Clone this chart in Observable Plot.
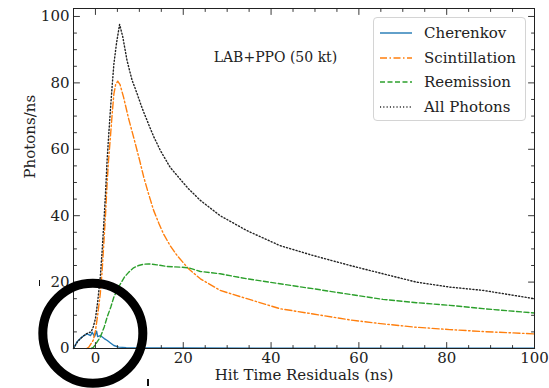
<!DOCTYPE html>
<html>
<head>
<meta charset="utf-8">
<script src="https://cdn.jsdelivr.net/npm/d3@7"></script>
<script src="https://cdn.jsdelivr.net/npm/@observablehq/plot@0.6"></script>
<style>
  html, body { margin: 0; padding: 0; background: #fff; }
  #wrap { position: relative; width: 549px; height: 388px; font-family: "DejaVu Serif", serif; }
  #legend { position: absolute; left: 373px; top: 17px; width: 153px; height: 104px;
    border: 1px solid #d4d4d4; border-radius: 4px; background: rgba(255,255,255,0.9); box-sizing: border-box; }
  .row { position: absolute; left: 0; height: 20px; display: flex; align-items: center; font-size: 15px; color: #222; }
  .row svg { margin-left: 6px; margin-right: 12px; }
  .mark { position: absolute; width: 1.5px; background: #111; }
</style>
</head>
<body>
<div id="wrap"></div>
<script>
// ---- data ----
const xCherenkov = [-5, -4.2, -3.3, -2.6, -1.9, -1.1, -0.75, -0.2, 0.25, 0.5, 1.1, 2, 2.7, 3.5, 4.2, 5.3, 7, 10, 20, 40, 60, 80, 100];
const yCherenkov = [0, 2, 3.2, 3.9, 4.4, 3.9, 4.9, 3.6, 5.2, 3.6, 3.9, 3.0, 2.4, 1.6, 0.9, 0.4, 0.25, 0.2, 0.15, 0.1, 0.1, 0.1, 0.1];

const xScint = [-2, -1.5, -0.5, 0, 0.5, 1.1, 1.5, 1.9, 2.3, 2.65, 3, 3.4, 3.8, 4.2, 4.6, 5.07, 5.6, 6.4, 7.5, 8.7, 10, 11, 12, 13.25, 14.5, 15.5, 17, 18.6, 21.2, 23.9, 28.4, 34.5, 42, 49.6, 58, 65.5, 73.1, 80.7, 88.3, 100];
const yScint = [0, 0.4, 2.5, 5.4, 10, 16.5, 23, 31.5, 40.5, 49.6, 57, 63.6, 70.5, 76.7, 79.5, 80.5, 79.5, 75.7, 69.5, 63.6, 57, 51.6, 47, 41.6, 37.5, 34.5, 31, 28, 24, 21, 17.5, 15, 12, 10.4, 8.6, 7.4, 6.4, 5.7, 5.1, 4.4];

const xReemission = [-1, -0.5, 0, 1.1, 2, 2.65, 3.5, 4.2, 5, 5.7, 6.6, 7.6, 8.7, 9.85, 11, 12.1, 14, 16.3, 19.3, 21.2, 23.9, 28.4, 34.5, 42, 49.6, 58, 65.5, 73.1, 80.7, 88.3, 100];
const yReemission = [0, 0.3, 1.2, 3.4, 6.5, 9.4, 12.5, 15.5, 17.8, 19.5, 21.5, 23, 24.3, 25, 25.4, 25.5, 25.2, 24.7, 24.5, 24.3, 23.2, 22.5, 21, 19.5, 18, 16.3, 14.8, 13.8, 13, 12, 10.7];

const xAll = [-5, -4, -3, -2, -1, -0.5, 0, 0.5, 1.1, 1.5, 1.9, 2.3, 2.65, 3, 3.4, 3.8, 4.2, 4.8, 5.5, 6.2, 7.2, 8.3, 9.5, 10.6, 11.75, 13.2, 14.8, 17, 19.3, 21.2, 23.9, 28.4, 34.5, 42, 49.6, 58, 65.5, 73.1, 80.7, 88.3, 100];
const yAll = [0, 2.2, 3.5, 4.5, 5, 6.5, 9, 14, 21.5, 29, 37.6, 47, 56.6, 64, 71.7, 79, 85.7, 92, 97.6, 94, 86.7, 81, 76.7, 72.5, 68.7, 64, 59.6, 54.6, 51, 48.1, 44.6, 40, 35.5, 31, 28, 25, 22.5, 20, 18.5, 17.5, 15];

const seriesNames = ["Cherenkov", "Scintillation", "Reemission", "All Photons"];
const xTickLabels = [0, 20, 40, 60, 80, 100];
const yTickLabels = [0, 20, 40, 60, 80, 100];
const xMinor = [-5, 5, 10, 15, 25, 30, 35, 45, 50, 55, 65, 70, 75, 85, 90, 95];
const yMinor = [5, 10, 15, 25, 30, 35, 45, 50, 55, 65, 70, 75, 85, 90, 95];
const titleText = ["LAB+PPO (50 kt)"];
const titlePos = [{x: 41, y: 87.5}];
const circlePos = [{x: -0.6, y: 4.6}];
const xLabel = "Hit Time Residuals (ns)";
const yLabel = "Photons/ns";

// ---- styles ----
const colors = {"Cherenkov": "#1f77b4", "Scintillation": "#ff7f0e", "Reemission": "#2ca02c", "All Photons": "#222"};
const dashes = {"Cherenkov": null, "Scintillation": "7,2.5,1.5,2.5", "Reemission": "5,2.5", "All Photons": "1.1,2.2"};

const pts = (xs, ys) => xs.map((x, i) => ({x, y: ys[i]}));
const seriesData = {
  "Cherenkov": pts(xCherenkov, yCherenkov),
  "Scintillation": pts(xScint, yScint),
  "Reemission": pts(xReemission, yReemission),
  "All Photons": pts(xAll, yAll)
};

const tickShape = {draw(ctx, l) { ctx.moveTo(0, 0); ctx.lineTo(0, -l); }};
function ticks(values, side, len) {
  const rot = {bottom: 0, top: 180, left: 90, right: -90}[side];
  const isX = side === "bottom" || side === "top";
  return Plot.vector(values, {
    ...(isX ? {x: d => d} : {y: d => d}),
    frameAnchor: side, length: len, rotate: rot, anchor: "start",
    shape: tickShape, stroke: "#222", strokeWidth: 0.9
  });
}

const lineMarks = seriesNames.map(name => Plot.line(seriesData[name], {
  x: "x", y: "y", stroke: colors[name], strokeWidth: 1.4,
  strokeDasharray: dashes[name] || undefined
}));

const chart = Plot.plot({
  width: 549, height: 388,
  marginLeft: 73, marginRight: 15, marginTop: 8, marginBottom: 40,
  x: {domain: [-5, 100]},
  y: {domain: [0, 102.4]},
  style: {fontFamily: "DejaVu Serif, serif", fontSize: "15px", color: "#222", background: "white"},
  marks: [
    ...lineMarks,
    Plot.frame({stroke: "#222", strokeWidth: 1}),
    Plot.axisX({ticks: xTickLabels, tickSize: 0, tickPadding: 4, label: null, fontSize: 15}),
    Plot.axisY({ticks: yTickLabels, tickSize: 0, tickPadding: 4, label: null, fontSize: 15}),
    ticks(xTickLabels, "bottom", 6), ticks(xTickLabels, "top", 6),
    ticks(xMinor, "bottom", 3), ticks(xMinor, "top", 3),
    ticks(yTickLabels, "left", 6), ticks(yTickLabels, "right", 6),
    ticks(yMinor, "left", 3), ticks(yMinor, "right", 3),
    Plot.text(titlePos, {x: "x", y: "y", text: () => titleText[0], fontSize: 14, fill: "#222"}),
    Plot.text([xLabel], {frameAnchor: "bottom", text: d => d, dy: 31, fontSize: 15, fill: "#222"}),
    Plot.text([yLabel], {frameAnchor: "left", text: d => d, rotate: -90, dx: -43, fontSize: 15, fill: "#222"}),
    Plot.dot(circlePos, {x: "x", y: "y", r: 50, stroke: "black", strokeWidth: 9, fill: "none"})
  ]
});

const wrap = document.getElementById("wrap");
wrap.appendChild(chart);

// legend
const legend = document.createElement("div");
legend.id = "legend";
seriesNames.forEach((name, i) => {
  const row = document.createElement("div");
  row.className = "row";
  row.style.top = (5 + i * 24.7) + "px";
  const dash = dashes[name] ? `stroke-dasharray="${dashes[name]}"` : "";
  row.innerHTML = `<svg width="32" height="10"><line x1="0" y1="5" x2="32" y2="5" stroke="${colors[name]}" stroke-width="1.4" ${dash}/></svg><span>${name}</span>`;
  legend.appendChild(row);
});
wrap.appendChild(legend);

// small stray marks present in the reference image
[[38.5, 280, 6], [147, 379, 7]].forEach(([l, t, h]) => {
  const m = document.createElement("div");
  m.className = "mark";
  m.style.left = l + "px"; m.style.top = t + "px"; m.style.height = h + "px";
  wrap.appendChild(m);
});
</script>
</body>
</html>
